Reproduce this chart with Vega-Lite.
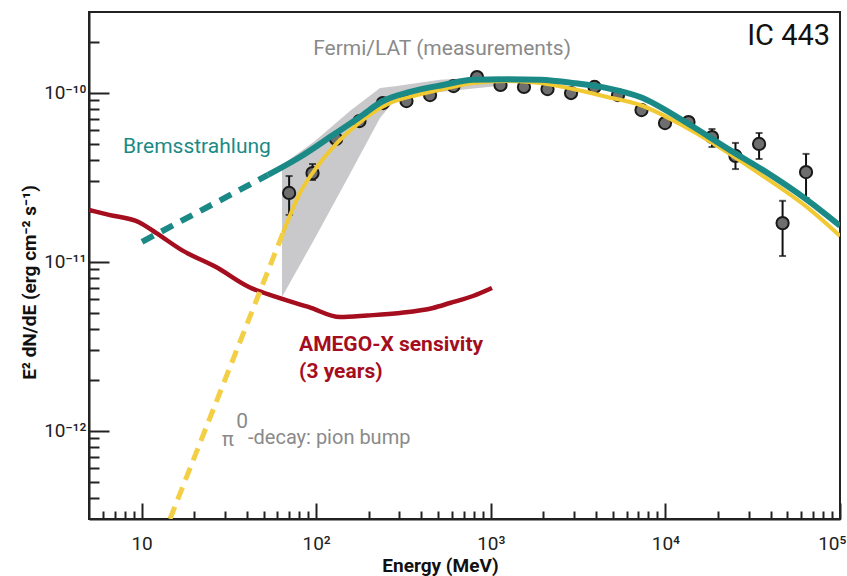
{
  "$schema": "https://vega.github.io/schema/vega-lite/v6.json",
  "width": 751,
  "height": 507,
  "autosize": {"type": "none"},
  "padding": {"left": 89, "top": 12, "right": 7, "bottom": 57},
  "background": "white",
  "config": {
    "font": "Roboto, sans-serif",
    "view": {"stroke": "#222222", "strokeWidth": 2},
    "axis": {
      "grid": false,
      "domainColor": "#222222",
      "domainWidth": 2,
      "tickColor": "#222222",
      "tickWidth": 2,
      "labelFont": "Roboto, sans-serif",
      "labelFontSize": 19,
      "labelColor": "#222222",
      "titleFont": "Roboto, sans-serif",
      "titleFontSize": 19,
      "titleFontWeight": "bold",
      "titleColor": "#111111"
    }
  },
  "datasets": {
    "curves": [
      {"series": "AMEGO-X", "energy": 5, "flux": 2.02e-11},
      {"series": "AMEGO-X", "energy": 6.51, "flux": 1.89e-11},
      {"series": "AMEGO-X", "energy": 9.67, "flux": 1.71e-11},
      {"series": "AMEGO-X", "energy": 12.1, "flux": 1.48e-11},
      {"series": "AMEGO-X", "energy": 17.0, "flux": 1.17e-11},
      {"series": "AMEGO-X", "energy": 26.7, "flux": 9.29e-12},
      {"series": "AMEGO-X", "energy": 41.2, "flux": 7.08e-12},
      {"series": "AMEGO-X", "energy": 58.9, "flux": 6.18e-12},
      {"series": "AMEGO-X", "energy": 91, "flux": 5.38e-12},
      {"series": "AMEGO-X", "energy": 137, "flux": 4.70e-12},
      {"series": "AMEGO-X", "energy": 196, "flux": 4.80e-12},
      {"series": "AMEGO-X", "energy": 302, "flux": 4.97e-12},
      {"series": "AMEGO-X", "energy": 467, "flux": 5.32e-12},
      {"series": "AMEGO-X", "energy": 584, "flux": 5.69e-12},
      {"series": "AMEGO-X", "energy": 791, "flux": 6.26e-12},
      {"series": "AMEGO-X", "energy": 1016, "flux": 6.98e-12},

      {"series": "Brems extrapolated", "energy": 10.06, "flux": 1.31e-11},
      {"series": "Brems extrapolated", "energy": 53, "flux": 3.26e-11},

      {"series": "Brems", "energy": 53, "flux": 3.26e-11},
      {"series": "Brems", "energy": 80.8, "flux": 4.16e-11},
      {"series": "Brems", "energy": 124.8, "flux": 5.61e-11},
      {"series": "Brems", "energy": 178, "flux": 7.18e-11},
      {"series": "Brems", "energy": 241, "flux": 8.92e-11},
      {"series": "Brems", "energy": 345, "flux": 1.01e-10},
      {"series": "Brems", "energy": 533, "flux": 1.11e-10},
      {"series": "Brems", "energy": 791, "flux": 1.19e-10},
      {"series": "Brems", "energy": 1239, "flux": 1.20e-10},
      {"series": "Brems", "energy": 1914, "flux": 1.19e-10},
      {"series": "Brems", "energy": 2958, "flux": 1.14e-10},
      {"series": "Brems", "energy": 4634, "flux": 1.064e-10},
      {"series": "Brems", "energy": 7161, "flux": 9.42e-11},
      {"series": "Brems", "energy": 13300, "flux": 6.61e-11},
      {"series": "Brems", "energy": 23440, "flux": 4.57e-11},
      {"series": "Brems", "energy": 36240, "flux": 3.48e-11},
      {"series": "Brems", "energy": 64700, "flux": 2.32e-11},
      {"series": "Brems", "energy": 100000, "flux": 1.63e-11},

      {"series": "Pion extrapolated", "energy": 14.55, "flux": 3.0e-13},
      {"series": "Pion extrapolated", "energy": 64.6, "flux": 1.48e-11},

      {"series": "Pion", "energy": 64.6, "flux": 1.48e-11},
      {"series": "Pion", "energy": 80.8, "flux": 2.55e-11},
      {"series": "Pion", "energy": 101, "flux": 3.63e-11},
      {"series": "Pion", "energy": 137, "flux": 5.25e-11},
      {"series": "Pion", "energy": 185, "flux": 6.89e-11},
      {"series": "Pion", "energy": 265, "flux": 8.68e-11},
      {"series": "Pion", "energy": 378, "flux": 9.68e-11},
      {"series": "Pion", "energy": 533, "flux": 1.05e-10},
      {"series": "Pion", "energy": 791, "flux": 1.14e-10},
      {"series": "Pion", "energy": 1239, "flux": 1.17e-10},
      {"series": "Pion", "energy": 1914, "flux": 1.14e-10},
      {"series": "Pion", "energy": 2958, "flux": 1.05e-10},
      {"series": "Pion", "energy": 4634, "flux": 9.42e-11},
      {"series": "Pion", "energy": 7161, "flux": 8.45e-11},
      {"series": "Pion", "energy": 13300, "flux": 6.18e-11},
      {"series": "Pion", "energy": 36240, "flux": 3.21e-11},
      {"series": "Pion", "energy": 64700, "flux": 2.10e-11},
      {"series": "Pion", "energy": 100000, "flux": 1.42e-11}
    ],
    "butterfly": [
      {"energy": 63.7, "hi": 3.73e-11, "lo": 6.18e-12},
      {"energy": 98.5, "hi": 5.17e-11, "lo": 1.38e-11},
      {"energy": 156, "hi": 7.78e-11, "lo": 3.30e-11},
      {"energy": 232, "hi": 1.064e-10, "lo": 7.08e-11},
      {"energy": 283, "hi": 1.09e-10, "lo": 9.04e-11},
      {"energy": 512, "hi": 1.19e-10, "lo": 1.01e-10},
      {"energy": 1130, "hi": 1.25e-10, "lo": 1.10e-10}
    ],
    "fermi": [
      {"energy": 70, "flux": 2.55e-11, "lo": 1.89e-11, "hi": 3.21e-11},
      {"energy": 95.3, "flux": 3.34e-11, "lo": 3.04e-11, "hi": 3.78e-11},
      {"energy": 130, "flux": 5.32e-11, "lo": null, "hi": null},
      {"energy": 177, "flux": 6.79e-11, "lo": null, "hi": null},
      {"energy": 241, "flux": 8.68e-11, "lo": null, "hi": null},
      {"energy": 329, "flux": 8.92e-11, "lo": null, "hi": null},
      {"energy": 449, "flux": 9.68e-11, "lo": null, "hi": null},
      {"energy": 612, "flux": 1.094e-10, "lo": null, "hi": null},
      {"energy": 834, "flux": 1.237e-10, "lo": null, "hi": null},
      {"energy": 1137, "flux": 1.11e-10, "lo": null, "hi": null},
      {"energy": 1549, "flux": 1.08e-10, "lo": null, "hi": null},
      {"energy": 2113, "flux": 1.05e-10, "lo": null, "hi": null},
      {"energy": 2882, "flux": 9.95e-11, "lo": null, "hi": null},
      {"energy": 3928, "flux": 1.08e-10, "lo": null, "hi": null},
      {"energy": 5355, "flux": 9.68e-11, "lo": null, "hi": null},
      {"energy": 7300, "flux": 7.89e-11, "lo": null, "hi": null},
      {"energy": 9950, "flux": 6.61e-11, "lo": null, "hi": null},
      {"energy": 13560, "flux": 6.70e-11, "lo": null, "hi": null},
      {"energy": 18490, "flux": 5.46e-11, "lo": 4.77e-11, "hi": 6.09e-11},
      {"energy": 25200, "flux": 4.22e-11, "lo": 3.53e-11, "hi": 5.04e-11},
      {"energy": 34400, "flux": 4.97e-11, "lo": 4.05e-11, "hi": 5.77e-11},
      {"energy": 46900, "flux": 1.69e-11, "lo": 1.08e-11, "hi": 2.29e-11},
      {"energy": 63900, "flux": 3.39e-11, "lo": 2.38e-11, "hi": 4.34e-11}
    ]
  },
  "layer": [
    {
      "data": {"name": "butterfly"},
      "mark": {"type": "area", "color": "#c9c9cb", "clip": true},
      "encoding": {
        "x": {
          "field": "energy", "type": "quantitative",
          "title": "Energy (MeV)",
          "scale": {"type": "log", "domain": [5, 100000], "nice": false},
          "axis": {
            "values": [6, 7, 8, 9, 10, 20, 30, 40, 50, 60, 70, 80, 90, 100, 200, 300, 400, 500, 600, 700, 800, 900, 1000, 2000, 3000, 4000, 5000, 6000, 7000, 8000, 9000, 10000, 20000, 30000, 40000, 50000, 60000, 70000, 80000, 90000, 100000],
            "labelExpr": "datum.value == 10 ? '10' : datum.value == 100 ? '10²' : datum.value == 1000 ? '10³' : datum.value == 10000 ? '10⁴' : datum.value == 100000 ? '10⁵' : ''",
            "tickSize": {"condition": {"test": "datum.value == 10 || datum.value == 100 || datum.value == 1000 || datum.value == 10000 || datum.value == 100000", "value": -16}, "value": -8},
            "labelPadding": 31,
            "labelFlush": 1,
            "labelFlushOffset": 6,
            "titleX": 351,
            "titleY": 46,
            "titleBaseline": "middle"
          }
        },
        "y": {
          "field": "hi", "type": "quantitative",
          "title": "E² dN/dE (erg cm⁻² s⁻¹)",
          "scale": {"type": "log", "domain": [3e-13, 3e-10], "nice": false},
          "axis": {
            "values": [4e-13, 5e-13, 6e-13, 7e-13, 8e-13, 9e-13, 1e-12, 2e-12, 3e-12, 4e-12, 5e-12, 6e-12, 7e-12, 8e-12, 9e-12, 1e-11, 2e-11, 3e-11, 4e-11, 5e-11, 6e-11, 7e-11, 8e-11, 9e-11, 1e-10, 2e-10],
            "labelExpr": "datum.value == 1e-12 ? '10⁻¹²' : datum.value == 1e-11 ? '10⁻¹¹' : datum.value == 1e-10 ? '10⁻¹⁰' : ''",
            "tickSize": {"condition": {"test": "datum.value == 1e-12 || datum.value == 1e-11 || datum.value == 1e-10", "value": -20}, "value": -10},
            "labelPadding": 23,
            "titleAngle": -90,
            "titleAlign": "center",
            "titleBaseline": "middle",
            "titleX": -60,
            "titleY": 270
          }
        },
        "y2": {"field": "lo"}
      }
    },
    {
      "data": {"name": "curves"},
      "transform": [{"filter": "datum.series == 'AMEGO-X'"}],
      "mark": {"type": "line", "color": "#a50e1e", "strokeWidth": 4.5, "interpolate": "monotone", "clip": true},
      "encoding": {
        "x": {"field": "energy", "type": "quantitative", "title": "Energy (MeV)"},
        "y": {"field": "flux", "type": "quantitative", "title": "E² dN/dE (erg cm⁻² s⁻¹)"}
      }
    },
    {
      "data": {"name": "curves"},
      "transform": [{"filter": "datum.series == 'Brems extrapolated'"}],
      "mark": {"type": "line", "color": "#1b8a86", "strokeWidth": 6, "strokeDash": [13, 9], "clip": true},
      "encoding": {
        "x": {"field": "energy", "type": "quantitative", "title": "Energy (MeV)"},
        "y": {"field": "flux", "type": "quantitative", "title": "E² dN/dE (erg cm⁻² s⁻¹)"}
      }
    },
    {
      "data": {"name": "curves"},
      "transform": [{"filter": "datum.series == 'Pion extrapolated'"}],
      "mark": {"type": "line", "color": "#f3cf45", "strokeWidth": 5, "strokeDash": [13, 8], "clip": true},
      "encoding": {
        "x": {"field": "energy", "type": "quantitative", "title": "Energy (MeV)"},
        "y": {"field": "flux", "type": "quantitative", "title": "E² dN/dE (erg cm⁻² s⁻¹)"}
      }
    },
    {
      "data": {"name": "fermi"},
      "transform": [{"filter": "datum.lo != null"}],
      "mark": {"type": "errorbar", "ticks": {"size": 7, "thickness": 2, "color": "#111111"}, "rule": {"strokeWidth": 2, "color": "#111111"}},
      "encoding": {
        "x": {"field": "energy", "type": "quantitative", "title": "Energy (MeV)"},
        "y": {"field": "lo", "type": "quantitative", "title": "E² dN/dE (erg cm⁻² s⁻¹)"},
        "y2": {"field": "hi"}
      }
    },
    {
      "data": {"name": "fermi"},
      "mark": {"type": "point", "shape": "circle", "filled": true, "size": 150, "color": "#6e6e6e", "stroke": "#1a1a1a", "strokeWidth": 2, "opacity": 1},
      "encoding": {
        "x": {"field": "energy", "type": "quantitative", "title": "Energy (MeV)"},
        "y": {"field": "flux", "type": "quantitative", "title": "E² dN/dE (erg cm⁻² s⁻¹)"}
      }
    },
    {
      "data": {"name": "curves"},
      "transform": [{"filter": "datum.series == 'Pion'"}],
      "mark": {"type": "line", "color": "#f1c932", "strokeWidth": 4, "interpolate": "monotone", "clip": true},
      "encoding": {
        "x": {"field": "energy", "type": "quantitative", "title": "Energy (MeV)"},
        "y": {"field": "flux", "type": "quantitative", "title": "E² dN/dE (erg cm⁻² s⁻¹)"}
      }
    },
    {
      "data": {"name": "curves"},
      "transform": [{"filter": "datum.series == 'Brems'"}],
      "mark": {"type": "line", "color": "#1b8a86", "strokeWidth": 6, "interpolate": "monotone", "clip": true},
      "encoding": {
        "x": {"field": "energy", "type": "quantitative", "title": "Energy (MeV)"},
        "y": {"field": "flux", "type": "quantitative", "title": "E² dN/dE (erg cm⁻² s⁻¹)"}
      }
    },
    {
      "data": {"values": [{"energy": 87700, "flux": 2.16e-10, "text": "IC 443"}]},
      "mark": {"type": "text", "align": "right", "baseline": "middle", "fontSize": 29, "color": "#111111"},
      "encoding": {
        "x": {"field": "energy", "type": "quantitative", "title": "Energy (MeV)"},
        "y": {"field": "flux", "type": "quantitative", "title": "E² dN/dE (erg cm⁻² s⁻¹)"},
        "text": {"field": "text"}
      }
    },
    {
      "data": {"values": [{"energy": 526, "flux": 1.81e-10, "text": "Fermi/LAT (measurements)"}]},
      "mark": {"type": "text", "align": "center", "baseline": "middle", "fontSize": 21, "color": "#8a8a8a"},
      "encoding": {
        "x": {"field": "energy", "type": "quantitative", "title": "Energy (MeV)"},
        "y": {"field": "flux", "type": "quantitative", "title": "E² dN/dE (erg cm⁻² s⁻¹)"},
        "text": {"field": "text"}
      }
    },
    {
      "data": {"values": [{"energy": 7.83, "flux": 4.77e-11, "text": "Bremsstrahlung"}]},
      "mark": {"type": "text", "align": "left", "baseline": "middle", "fontSize": 21, "color": "#1b8a86"},
      "encoding": {
        "x": {"field": "energy", "type": "quantitative", "title": "Energy (MeV)"},
        "y": {"field": "flux", "type": "quantitative", "title": "E² dN/dE (erg cm⁻² s⁻¹)"},
        "text": {"field": "text"}
      }
    },
    {
      "data": {"values": [
        {"energy": 79.8, "flux": 3.21e-12, "text": "AMEGO-X sensivity"},
        {"energy": 79.8, "flux": 2.22e-12, "text": "(3 years)"}
      ]},
      "mark": {"type": "text", "align": "left", "baseline": "middle", "fontSize": 21, "fontWeight": "bold", "color": "#a50e1e"},
      "encoding": {
        "x": {"field": "energy", "type": "quantitative", "title": "Energy (MeV)"},
        "y": {"field": "flux", "type": "quantitative", "title": "E² dN/dE (erg cm⁻² s⁻¹)"},
        "text": {"field": "text"}
      }
    },
    {
      "data": {"values": [
        {"energy": 28.9, "flux": 8.79e-13, "text": "π"},
        {"energy": 40.7, "flux": 9.04e-13, "text": "-decay: pion bump"}
      ]},
      "mark": {"type": "text", "align": "left", "baseline": "middle", "fontSize": 20, "color": "#8a8a8a"},
      "encoding": {
        "x": {"field": "energy", "type": "quantitative", "title": "Energy (MeV)"},
        "y": {"field": "flux", "type": "quantitative", "title": "E² dN/dE (erg cm⁻² s⁻¹)"},
        "text": {"field": "text"}
      }
    },
    {
      "data": {"values": [{"energy": 34.8, "flux": 1.12e-12, "text": "0"}]},
      "mark": {"type": "text", "align": "left", "baseline": "middle", "fontSize": 21, "color": "#8a8a8a"},
      "encoding": {
        "x": {"field": "energy", "type": "quantitative", "title": "Energy (MeV)"},
        "y": {"field": "flux", "type": "quantitative", "title": "E² dN/dE (erg cm⁻² s⁻¹)"},
        "text": {"field": "text"}
      }
    }
  ]
}
